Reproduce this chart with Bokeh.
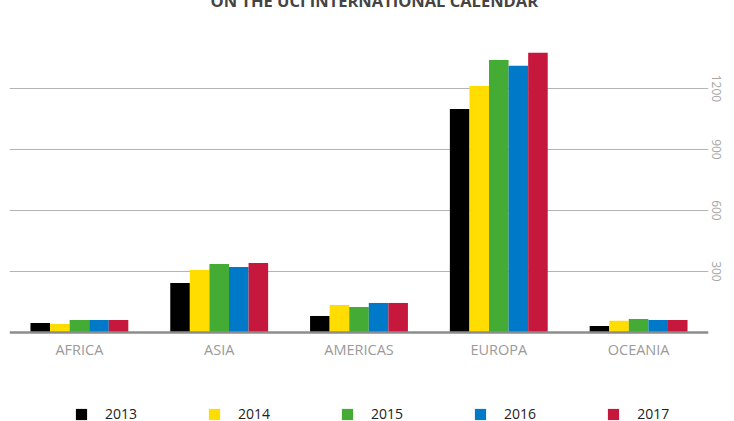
from bokeh.plotting import figure
from bokeh.models import FactorRange, Range1d, FixedTicker, Legend, Title, Span
from bokeh.core.properties import value
from bokeh.transform import dodge
from bokeh.embed import file_html
from bokeh.resources import INLINE

# ---- data ----
regions = ["AFRICA", "ASIA", "AMERICAS", "EUROPA", "OCEANIA"]
years = ["2013", "2014", "2015", "2016", "2017"]
v2013 = [47, 243, 81, 1099, 32]
v2014 = [42, 307, 135, 1212, 57]
v2015 = [61, 337, 125, 1340, 66]
v2016 = [61, 322, 145, 1311, 61]
v2017 = [61, 342, 145, 1375, 61]
y_ticks = [300, 600, 900, 1200]
title_text = "ON THE UCI INTERNATIONAL CALENDAR"

series = [v2013, v2014, v2015, v2016, v2017]
colors = ["#000000", "#FFDD00", "#44AC34", "#0079C8", "#C6183C"]
offsets = [-0.28, -0.14, 0.0, 0.14, 0.28]

data = {"region": regions}
for y, s in zip(years, series):
    data["y" + y] = s

p = figure(
    x_range=FactorRange(*regions, range_padding=0),
    y_range=Range1d(-438, 1539),
    width=734, height=444,
    output_backend="svg", toolbar_location=None,
    y_axis_location="right", x_axis_location=None,
    min_border_left=9, min_border_right=26,
    min_border_top=42, min_border_bottom=0,
    outline_line_color=None,
    margin=(-23, 0, 0, 0),
)

renderers = []
for y, c, off in zip(years, colors, offsets):
    r = p.vbar(x=dodge("region", off, range=p.x_range), top="y" + y, width=0.14,
               source=data, fill_color=c, line_color=None)
    renderers.append((y, [r]))

# baseline
p.add_layout(Span(location=0, dimension="width", line_color="#8c8c8c", line_width=2.5))

# category labels
p.text(x=regions, y=0, text=regions, y_offset=17, text_align="center",
       text_baseline="middle", text_font=value("Open Sans"),
       text_font_size="14.5px", text_color="#9a9a9a")

t = Title(text=title_text, align="left", text_font="Open Sans",
          text_font_size="16.5px", text_font_style="bold", text_color="#444444",
          standoff=15, offset=201)
p.add_layout(t, "above")

# grid
p.xgrid.grid_line_color = None
p.ygrid.ticker = FixedTicker(ticks=y_ticks)
p.ygrid.grid_line_color = "#b4b4b4"
p.ygrid.grid_line_width = 1.2

# y axis (right)
ya = p.yaxis[0]
ya.ticker = FixedTicker(ticks=y_ticks)
ya.axis_line_color = None
ya.major_tick_line_color = None
ya.minor_tick_line_color = None
ya.major_label_orientation = "vertical"
ya.major_label_text_font = "Open Sans"
ya.major_label_text_font_size = "12px"
ya.major_label_text_color = "#a6a6a6"
ya.major_label_standoff = -3

legend = Legend(items=renderers, orientation="horizontal", location=(65, -2),
                glyph_width=14, glyph_height=14, label_standoff=17,
                label_width=32, spacing=70, padding=0, margin=0,
                border_line_color=None, background_fill_alpha=0,
                label_text_font="Open Sans", label_text_font_size="14px",
                label_text_color="#222222")
p.add_layout(legend, "center")

open("out.html", "w").write(file_html(p, INLINE))
